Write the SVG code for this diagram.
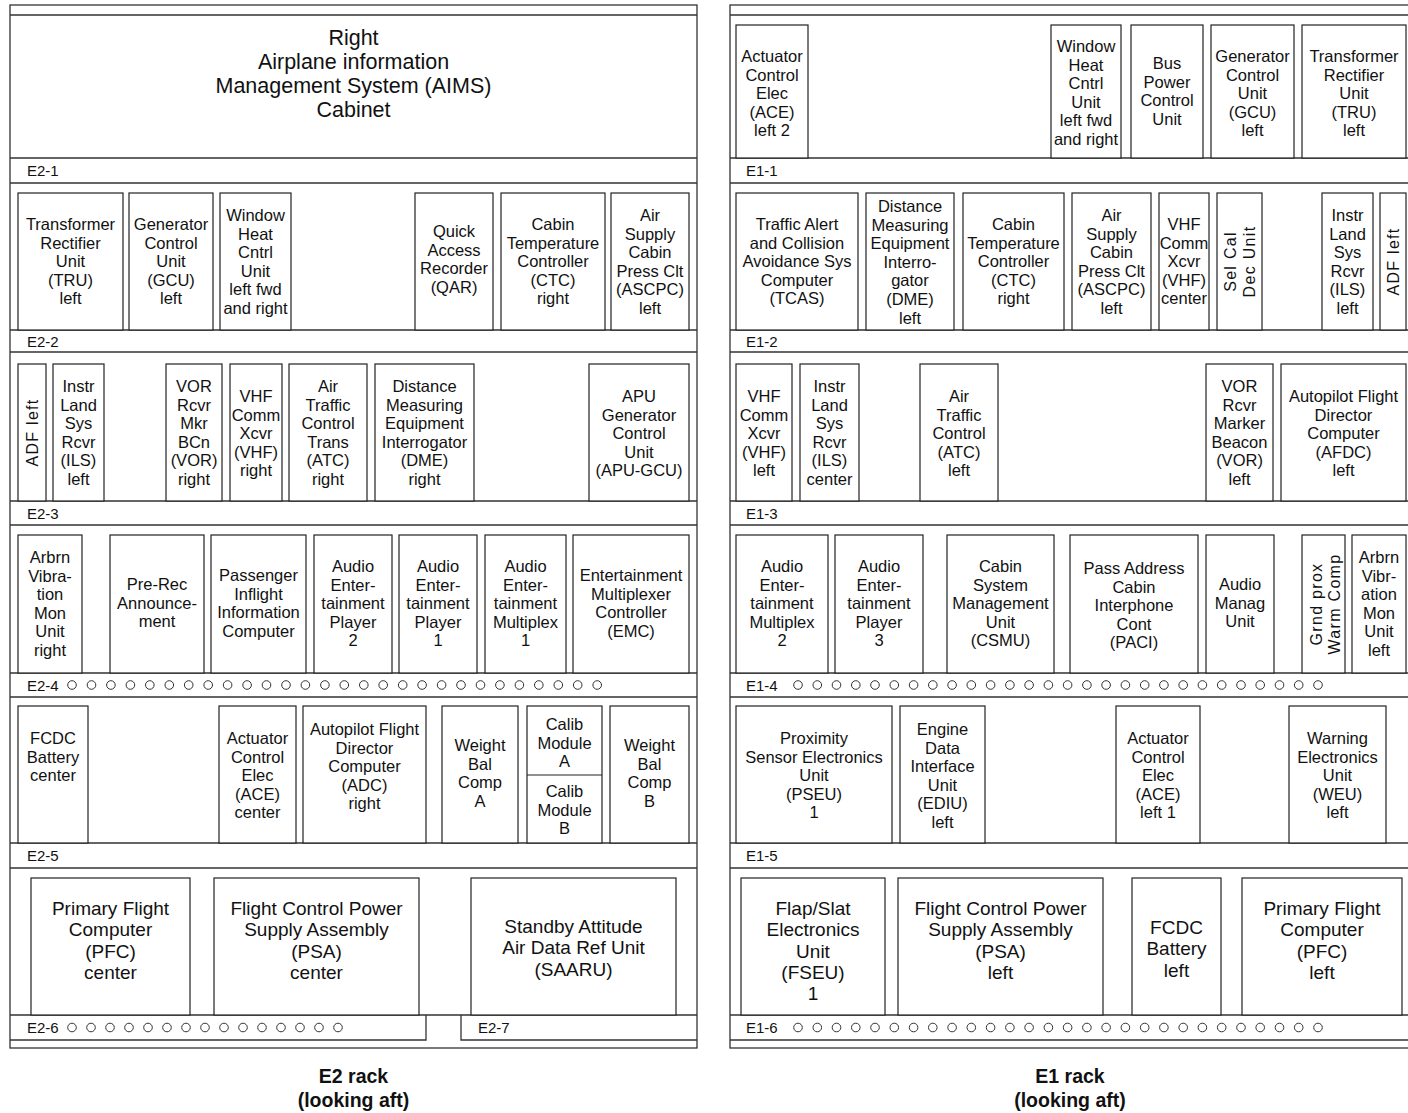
<svg xmlns="http://www.w3.org/2000/svg" width="1408" height="1113" viewBox="0 0 1408 1113">
<style>
.rk{fill:none;stroke:#333;stroke-width:1.3}
.bx{fill:#fff;stroke:#222;stroke-width:1.2}
.t{font-family:"Liberation Sans",Arial,Helvetica,sans-serif;font-size:16.5px;text-anchor:middle;fill:#111}
.tb{font-family:"Liberation Sans",Arial,Helvetica,sans-serif;font-size:19px;text-anchor:middle;fill:#111}
.ta{font-family:"Liberation Sans",Arial,Helvetica,sans-serif;font-size:21.5px;text-anchor:middle;fill:#111}
.tr{font-family:"Liberation Sans",Arial,Helvetica,sans-serif;font-size:16px;text-anchor:middle;fill:#111;letter-spacing:1.3px}
.lb{font-family:"Liberation Sans",Arial,Helvetica,sans-serif;font-size:15px;fill:#111}
.ti{font-family:"Liberation Sans",Arial,Helvetica,sans-serif;font-size:19.5px;font-weight:bold;text-anchor:middle;fill:#111}
.h{fill:none;stroke:#333;stroke-width:1}
</style>
<defs>
<circle id="hole" class="h" r="4.3"/>
</defs>
<rect width="1408" height="1113" fill="#fff"/>

<!-- E2 rack frame -->
<g id="e2-rack">
<rect class="rk" x="10" y="5" width="687" height="1043"/>
<path class="rk" d="M10,15H697M10,158H697M10,183H697M10,330H697M10,352H697M10,501H697M10,525H697M10,673H697M10,697H697M10,843H697M10,868H697M10,1015H697M10,1040H426V1015M461,1015V1040H697"/>
<text class="lb" x="27" y="176">E2-1</text>
<text class="lb" x="27" y="347">E2-2</text>
<text class="lb" x="27" y="519">E2-3</text>
<text class="lb" x="27" y="691">E2-4</text>
<text class="lb" x="27" y="861">E2-5</text>
<text class="lb" x="27" y="1033">E2-6</text>
<text class="lb" x="478" y="1033">E2-7</text>
<g id="e2-4-holes">
<use href="#hole" x="72" y="685"/><use href="#hole" x="91.5" y="685"/><use href="#hole" x="110.9" y="685"/><use href="#hole" x="130.4" y="685"/><use href="#hole" x="149.8" y="685"/><use href="#hole" x="169.3" y="685"/><use href="#hole" x="188.7" y="685"/><use href="#hole" x="208.2" y="685"/><use href="#hole" x="227.6" y="685"/><use href="#hole" x="247.1" y="685"/><use href="#hole" x="266.5" y="685"/><use href="#hole" x="286" y="685"/><use href="#hole" x="305.4" y="685"/><use href="#hole" x="324.9" y="685"/><use href="#hole" x="344.3" y="685"/><use href="#hole" x="363.8" y="685"/><use href="#hole" x="383.2" y="685"/><use href="#hole" x="402.7" y="685"/><use href="#hole" x="422.1" y="685"/><use href="#hole" x="441.6" y="685"/><use href="#hole" x="461" y="685"/><use href="#hole" x="480.5" y="685"/><use href="#hole" x="499.9" y="685"/><use href="#hole" x="519.4" y="685"/><use href="#hole" x="538.8" y="685"/><use href="#hole" x="558.3" y="685"/><use href="#hole" x="577.7" y="685"/><use href="#hole" x="597.2" y="685"/>
</g>
<g id="e2-6-holes">
<use href="#hole" x="72" y="1027.5"/><use href="#hole" x="91" y="1027.5"/><use href="#hole" x="110" y="1027.5"/><use href="#hole" x="129" y="1027.5"/><use href="#hole" x="148" y="1027.5"/><use href="#hole" x="167" y="1027.5"/><use href="#hole" x="186" y="1027.5"/><use href="#hole" x="205" y="1027.5"/><use href="#hole" x="224" y="1027.5"/><use href="#hole" x="243" y="1027.5"/><use href="#hole" x="262" y="1027.5"/><use href="#hole" x="281" y="1027.5"/><use href="#hole" x="300" y="1027.5"/><use href="#hole" x="319" y="1027.5"/><use href="#hole" x="338" y="1027.5"/>
</g>
</g>

<!-- E1 rack frame -->
<g id="e1-rack">
<rect class="rk" x="730" y="5" width="690" height="1043"/>
<path class="rk" d="M730,15H1408M730,158H1408M730,183H1408M730,330H1408M730,352H1408M730,501H1408M730,525H1408M730,673H1408M730,697H1408M730,843H1408M730,868H1408M730,1015H1408M730,1040H1408"/>
<text class="lb" x="746" y="176">E1-1</text>
<text class="lb" x="746" y="347">E1-2</text>
<text class="lb" x="746" y="519">E1-3</text>
<text class="lb" x="746" y="691">E1-4</text>
<text class="lb" x="746" y="861">E1-5</text>
<text class="lb" x="746" y="1033">E1-6</text>
<g id="e1-4-holes">
<use href="#hole" x="798" y="685"/><use href="#hole" x="817.3" y="685"/><use href="#hole" x="836.5" y="685"/><use href="#hole" x="855.8" y="685"/><use href="#hole" x="875" y="685"/><use href="#hole" x="894.3" y="685"/><use href="#hole" x="913.6" y="685"/><use href="#hole" x="932.8" y="685"/><use href="#hole" x="952.1" y="685"/><use href="#hole" x="971.3" y="685"/><use href="#hole" x="990.6" y="685"/><use href="#hole" x="1009.9" y="685"/><use href="#hole" x="1029.1" y="685"/><use href="#hole" x="1048.4" y="685"/><use href="#hole" x="1067.6" y="685"/><use href="#hole" x="1086.9" y="685"/><use href="#hole" x="1106.1" y="685"/><use href="#hole" x="1125.4" y="685"/><use href="#hole" x="1144.7" y="685"/><use href="#hole" x="1163.9" y="685"/><use href="#hole" x="1183.2" y="685"/><use href="#hole" x="1202.4" y="685"/><use href="#hole" x="1221.7" y="685"/><use href="#hole" x="1241" y="685"/><use href="#hole" x="1260.2" y="685"/><use href="#hole" x="1279.5" y="685"/><use href="#hole" x="1298.7" y="685"/><use href="#hole" x="1318" y="685"/>
</g>
<g id="e1-6-holes">
<use href="#hole" x="798" y="1027.5"/><use href="#hole" x="817.3" y="1027.5"/><use href="#hole" x="836.5" y="1027.5"/><use href="#hole" x="855.8" y="1027.5"/><use href="#hole" x="875" y="1027.5"/><use href="#hole" x="894.3" y="1027.5"/><use href="#hole" x="913.6" y="1027.5"/><use href="#hole" x="932.8" y="1027.5"/><use href="#hole" x="952.1" y="1027.5"/><use href="#hole" x="971.3" y="1027.5"/><use href="#hole" x="990.6" y="1027.5"/><use href="#hole" x="1009.9" y="1027.5"/><use href="#hole" x="1029.1" y="1027.5"/><use href="#hole" x="1048.4" y="1027.5"/><use href="#hole" x="1067.6" y="1027.5"/><use href="#hole" x="1086.9" y="1027.5"/><use href="#hole" x="1106.1" y="1027.5"/><use href="#hole" x="1125.4" y="1027.5"/><use href="#hole" x="1144.7" y="1027.5"/><use href="#hole" x="1163.9" y="1027.5"/><use href="#hole" x="1183.2" y="1027.5"/><use href="#hole" x="1202.4" y="1027.5"/><use href="#hole" x="1221.7" y="1027.5"/><use href="#hole" x="1241" y="1027.5"/><use href="#hole" x="1260.2" y="1027.5"/><use href="#hole" x="1279.5" y="1027.5"/><use href="#hole" x="1298.7" y="1027.5"/><use href="#hole" x="1318" y="1027.5"/>
</g>
</g>

<!-- E2 rack units -->
<g id="aims">
<text class="ta" x="353.5" y="45"><tspan x="353.5">Right</tspan><tspan x="353.5" dy="24">Airplane information</tspan><tspan x="353.5" dy="24">Management System (AIMS)</tspan><tspan x="353.5" dy="24">Cabinet</tspan></text>
</g>

<g id="e2-tru-left"><rect class="bx" x="18" y="193" width="105" height="137"/>
<text class="t" x="70.5" y="230"><tspan x="70.5">Transformer</tspan><tspan x="70.5" dy="18.6">Rectifier</tspan><tspan x="70.5" dy="18.6">Unit</tspan><tspan x="70.5" dy="18.6">(TRU)</tspan><tspan x="70.5" dy="18.6">left</tspan></text></g>
<g id="e2-gcu-left"><rect class="bx" x="129" y="193" width="84" height="137"/>
<text class="t" x="171" y="230"><tspan x="171">Generator</tspan><tspan x="171" dy="18.6">Control</tspan><tspan x="171" dy="18.6">Unit</tspan><tspan x="171" dy="18.6">(GCU)</tspan><tspan x="171" dy="18.6">left</tspan></text></g>
<g id="e2-whcu"><rect class="bx" x="220" y="193" width="71" height="137"/>
<text class="t" x="255.5" y="221"><tspan x="255.5">Window</tspan><tspan x="255.5" dy="18.6">Heat</tspan><tspan x="255.5" dy="18.6">Cntrl</tspan><tspan x="255.5" dy="18.6">Unit</tspan><tspan x="255.5" dy="18.6">left fwd</tspan><tspan x="255.5" dy="18.6">and right</tspan></text></g>
<g id="e2-qar"><rect class="bx" x="415" y="193" width="78" height="137"/>
<text class="t" x="454" y="237"><tspan x="454">Quick</tspan><tspan x="454" dy="18.6">Access</tspan><tspan x="454" dy="18.6">Recorder</tspan><tspan x="454" dy="18.6">(QAR)</tspan></text></g>
<g id="e2-ctc-right"><rect class="bx" x="501" y="193" width="104" height="137"/>
<text class="t" x="553" y="230"><tspan x="553">Cabin</tspan><tspan x="553" dy="18.6">Temperature</tspan><tspan x="553" dy="18.6">Controller</tspan><tspan x="553" dy="18.6">(CTC)</tspan><tspan x="553" dy="18.6">right</tspan></text></g>
<g id="e2-ascpc-left"><rect class="bx" x="611" y="193" width="78" height="137"/>
<text class="t" x="650" y="221"><tspan x="650">Air</tspan><tspan x="650" dy="18.6">Supply</tspan><tspan x="650" dy="18.6">Cabin</tspan><tspan x="650" dy="18.6">Press Clt</tspan><tspan x="650" dy="18.6">(ASCPC)</tspan><tspan x="650" dy="18.6">left</tspan></text></g>

<g id="e2-adf-left"><rect class="bx" x="18" y="364" width="28" height="137"/>
<text class="tr" transform="translate(32,432.5) rotate(-90)" x="0" y="6">ADF left</text></g>
<g id="e2-ils-left"><rect class="bx" x="53" y="364" width="51" height="137"/>
<text class="t" x="78.5" y="392"><tspan x="78.5">Instr</tspan><tspan x="78.5" dy="18.6">Land</tspan><tspan x="78.5" dy="18.6">Sys</tspan><tspan x="78.5" dy="18.6">Rcvr</tspan><tspan x="78.5" dy="18.6">(ILS)</tspan><tspan x="78.5" dy="18.6">left</tspan></text></g>
<g id="e2-vor-right"><rect class="bx" x="166" y="364" width="56" height="137"/>
<text class="t" x="194" y="392"><tspan x="194">VOR</tspan><tspan x="194" dy="18.6">Rcvr</tspan><tspan x="194" dy="18.6">Mkr</tspan><tspan x="194" dy="18.6">BCn</tspan><tspan x="194" dy="18.6">(VOR)</tspan><tspan x="194" dy="18.6">right</tspan></text></g>
<g id="e2-vhf-right"><rect class="bx" x="230" y="364" width="52" height="137"/>
<text class="t" x="256" y="402"><tspan x="256">VHF</tspan><tspan x="256" dy="18.6">Comm</tspan><tspan x="256" dy="18.6">Xcvr</tspan><tspan x="256" dy="18.6">(VHF)</tspan><tspan x="256" dy="18.6">right</tspan></text></g>
<g id="e2-atc-right"><rect class="bx" x="289" y="364" width="78" height="137"/>
<text class="t" x="328" y="392"><tspan x="328">Air</tspan><tspan x="328" dy="18.6">Traffic</tspan><tspan x="328" dy="18.6">Control</tspan><tspan x="328" dy="18.6">Trans</tspan><tspan x="328" dy="18.6">(ATC)</tspan><tspan x="328" dy="18.6">right</tspan></text></g>
<g id="e2-dme-right"><rect class="bx" x="375" y="364" width="99" height="137"/>
<text class="t" x="424.5" y="392"><tspan x="424.5">Distance</tspan><tspan x="424.5" dy="18.6">Measuring</tspan><tspan x="424.5" dy="18.6">Equipment</tspan><tspan x="424.5" dy="18.6">Interrogator</tspan><tspan x="424.5" dy="18.6">(DME)</tspan><tspan x="424.5" dy="18.6">right</tspan></text></g>
<g id="e2-apu-gcu"><rect class="bx" x="589" y="364" width="100" height="137"/>
<text class="t" x="639" y="402"><tspan x="639">APU</tspan><tspan x="639" dy="18.6">Generator</tspan><tspan x="639" dy="18.6">Control</tspan><tspan x="639" dy="18.6">Unit</tspan><tspan x="639" dy="18.6">(APU-GCU)</tspan></text></g>

<g id="e2-avm-right"><rect class="bx" x="18" y="535" width="64" height="138"/>
<text class="t" x="50" y="563"><tspan x="50">Arbrn</tspan><tspan x="50" dy="18.6">Vibra-</tspan><tspan x="50" dy="18.6">tion</tspan><tspan x="50" dy="18.6">Mon</tspan><tspan x="50" dy="18.6">Unit</tspan><tspan x="50" dy="18.6">right</tspan></text></g>
<g id="e2-prerec"><rect class="bx" x="110" y="535" width="94" height="138"/>
<text class="t" x="157" y="590"><tspan x="157">Pre-Rec</tspan><tspan x="157" dy="18.6">Announce-</tspan><tspan x="157" dy="18.6">ment</tspan></text></g>
<g id="e2-piic"><rect class="bx" x="211" y="535" width="95" height="138"/>
<text class="t" x="258.5" y="581"><tspan x="258.5">Passenger</tspan><tspan x="258.5" dy="18.6">Inflight</tspan><tspan x="258.5" dy="18.6">Information</tspan><tspan x="258.5" dy="18.6">Computer</tspan></text></g>
<g id="e2-aep2"><rect class="bx" x="314" y="535" width="78" height="138"/>
<text class="t" x="353" y="572"><tspan x="353">Audio</tspan><tspan x="353" dy="18.6">Enter-</tspan><tspan x="353" dy="18.6">tainment</tspan><tspan x="353" dy="18.6">Player</tspan><tspan x="353" dy="18.6">2</tspan></text></g>
<g id="e2-aep1"><rect class="bx" x="399" y="535" width="78" height="138"/>
<text class="t" x="438" y="572"><tspan x="438">Audio</tspan><tspan x="438" dy="18.6">Enter-</tspan><tspan x="438" dy="18.6">tainment</tspan><tspan x="438" dy="18.6">Player</tspan><tspan x="438" dy="18.6">1</tspan></text></g>
<g id="e2-aem1"><rect class="bx" x="485" y="535" width="81" height="138"/>
<text class="t" x="525.5" y="572"><tspan x="525.5">Audio</tspan><tspan x="525.5" dy="18.6">Enter-</tspan><tspan x="525.5" dy="18.6">tainment</tspan><tspan x="525.5" dy="18.6">Multiplex</tspan><tspan x="525.5" dy="18.6">1</tspan></text></g>
<g id="e2-emc"><rect class="bx" x="573" y="535" width="116" height="138"/>
<text class="t" x="631" y="581"><tspan x="631">Entertainment</tspan><tspan x="631" dy="18.6">Multiplexer</tspan><tspan x="631" dy="18.6">Controller</tspan><tspan x="631" dy="18.6">(EMC)</tspan></text></g>

<g id="e2-fcdc-center"><rect class="bx" x="18" y="706" width="70" height="137"/>
<text class="t" x="53" y="744"><tspan x="53">FCDC</tspan><tspan x="53" dy="18.6">Battery</tspan><tspan x="53" dy="18.6">center</tspan></text></g>
<g id="e2-ace-center"><rect class="bx" x="219" y="706" width="77" height="137"/>
<text class="t" x="257.5" y="744"><tspan x="257.5">Actuator</tspan><tspan x="257.5" dy="18.6">Control</tspan><tspan x="257.5" dy="18.6">Elec</tspan><tspan x="257.5" dy="18.6">(ACE)</tspan><tspan x="257.5" dy="18.6">center</tspan></text></g>
<g id="e2-adc-right"><rect class="bx" x="303" y="706" width="123" height="137"/>
<text class="t" x="364.5" y="735"><tspan x="364.5">Autopilot Flight</tspan><tspan x="364.5" dy="18.6">Director</tspan><tspan x="364.5" dy="18.6">Computer</tspan><tspan x="364.5" dy="18.6">(ADC)</tspan><tspan x="364.5" dy="18.6">right</tspan></text></g>
<g id="e2-wbc-a"><rect class="bx" x="442" y="706" width="76" height="137"/>
<text class="t" x="480" y="751"><tspan x="480">Weight</tspan><tspan x="480" dy="18.6">Bal</tspan><tspan x="480" dy="18.6">Comp</tspan><tspan x="480" dy="18.6">A</tspan></text></g>
<g id="e2-calib"><rect class="bx" x="527" y="706" width="75" height="137"/>
<line class="bx" x1="527" y1="775" x2="602" y2="775"/>
<text class="t" x="564.5" y="730"><tspan x="564.5">Calib</tspan><tspan x="564.5" dy="18.6">Module</tspan><tspan x="564.5" dy="18.6">A</tspan></text>
<text class="t" x="564.5" y="797"><tspan x="564.5">Calib</tspan><tspan x="564.5" dy="18.6">Module</tspan><tspan x="564.5" dy="18.6">B</tspan></text></g>
<g id="e2-wbc-b"><rect class="bx" x="610" y="706" width="79" height="137"/>
<text class="t" x="649.5" y="751"><tspan x="649.5">Weight</tspan><tspan x="649.5" dy="18.6">Bal</tspan><tspan x="649.5" dy="18.6">Comp</tspan><tspan x="649.5" dy="18.6">B</tspan></text></g>

<g id="e2-pfc-center"><rect class="bx" x="31" y="878" width="159" height="137"/>
<text class="tb" x="110.5" y="915"><tspan x="110.5">Primary Flight</tspan><tspan x="110.5" dy="21.3">Computer</tspan><tspan x="110.5" dy="21.3">(PFC)</tspan><tspan x="110.5" dy="21.3">center</tspan></text></g>
<g id="e2-psa-center"><rect class="bx" x="214" y="878" width="205" height="137"/>
<text class="tb" x="316.5" y="915"><tspan x="316.5">Flight Control Power</tspan><tspan x="316.5" dy="21.3">Supply Assembly</tspan><tspan x="316.5" dy="21.3">(PSA)</tspan><tspan x="316.5" dy="21.3">center</tspan></text></g>
<g id="e2-saaru"><rect class="bx" x="471" y="878" width="205" height="137"/>
<text class="tb" x="573.5" y="933"><tspan x="573.5">Standby Attitude</tspan><tspan x="573.5" dy="21.3">Air Data Ref Unit</tspan><tspan x="573.5" dy="21.3">(SAARU)</tspan></text></g>

<!-- E1 rack units -->
<g id="e1-ace-left2"><rect class="bx" x="736" y="25" width="72" height="133"/>
<text class="t" x="772" y="62"><tspan x="772">Actuator</tspan><tspan x="772" dy="18.6">Control</tspan><tspan x="772" dy="18.6">Elec</tspan><tspan x="772" dy="18.6">(ACE)</tspan><tspan x="772" dy="18.6">left 2</tspan></text></g>
<g id="e1-whcu"><rect class="bx" x="1051" y="25" width="70" height="133"/>
<text class="t" x="1086" y="52"><tspan x="1086">Window</tspan><tspan x="1086" dy="18.6">Heat</tspan><tspan x="1086" dy="18.6">Cntrl</tspan><tspan x="1086" dy="18.6">Unit</tspan><tspan x="1086" dy="18.6">left fwd</tspan><tspan x="1086" dy="18.6">and right</tspan></text></g>
<g id="e1-bpcu"><rect class="bx" x="1131" y="25" width="72" height="133"/>
<text class="t" x="1167" y="69"><tspan x="1167">Bus</tspan><tspan x="1167" dy="18.6">Power</tspan><tspan x="1167" dy="18.6">Control</tspan><tspan x="1167" dy="18.6">Unit</tspan></text></g>
<g id="e1-gcu-left"><rect class="bx" x="1211" y="25" width="83" height="133"/>
<text class="t" x="1252.5" y="62"><tspan x="1252.5">Generator</tspan><tspan x="1252.5" dy="18.6">Control</tspan><tspan x="1252.5" dy="18.6">Unit</tspan><tspan x="1252.5" dy="18.6">(GCU)</tspan><tspan x="1252.5" dy="18.6">left</tspan></text></g>
<g id="e1-tru-left"><rect class="bx" x="1302" y="25" width="104" height="133"/>
<text class="t" x="1354" y="62"><tspan x="1354">Transformer</tspan><tspan x="1354" dy="18.6">Rectifier</tspan><tspan x="1354" dy="18.6">Unit</tspan><tspan x="1354" dy="18.6">(TRU)</tspan><tspan x="1354" dy="18.6">left</tspan></text></g>

<g id="e1-tcas"><rect class="bx" x="736" y="193" width="122" height="137"/>
<text class="t" x="797" y="230"><tspan x="797">Traffic Alert</tspan><tspan x="797" dy="18.6">and Collision</tspan><tspan x="797" dy="18.6">Avoidance Sys</tspan><tspan x="797" dy="18.6">Computer</tspan><tspan x="797" dy="18.6">(TCAS)</tspan></text></g>
<g id="e1-dme-left"><rect class="bx" x="866" y="193" width="88" height="137"/>
<text class="t" x="910" y="212"><tspan x="910">Distance</tspan><tspan x="910" dy="18.6">Measuring</tspan><tspan x="910" dy="18.6">Equipment</tspan><tspan x="910" dy="18.6">Interro-</tspan><tspan x="910" dy="18.6">gator</tspan><tspan x="910" dy="18.6">(DME)</tspan><tspan x="910" dy="18.6">left</tspan></text></g>
<g id="e1-ctc-right"><rect class="bx" x="963" y="193" width="101" height="137"/>
<text class="t" x="1013.5" y="230"><tspan x="1013.5">Cabin</tspan><tspan x="1013.5" dy="18.6">Temperature</tspan><tspan x="1013.5" dy="18.6">Controller</tspan><tspan x="1013.5" dy="18.6">(CTC)</tspan><tspan x="1013.5" dy="18.6">right</tspan></text></g>
<g id="e1-ascpc-left"><rect class="bx" x="1072" y="193" width="79" height="137"/>
<text class="t" x="1111.5" y="221"><tspan x="1111.5">Air</tspan><tspan x="1111.5" dy="18.6">Supply</tspan><tspan x="1111.5" dy="18.6">Cabin</tspan><tspan x="1111.5" dy="18.6">Press Clt</tspan><tspan x="1111.5" dy="18.6">(ASCPC)</tspan><tspan x="1111.5" dy="18.6">left</tspan></text></g>
<g id="e1-vhf-center"><rect class="bx" x="1159" y="193" width="50" height="137"/>
<text class="t" x="1184" y="230"><tspan x="1184">VHF</tspan><tspan x="1184" dy="18.6">Comm</tspan><tspan x="1184" dy="18.6">Xcvr</tspan><tspan x="1184" dy="18.6">(VHF)</tspan><tspan x="1184" dy="18.6">center</tspan></text></g>
<g id="e1-selcal"><rect class="bx" x="1217" y="193" width="45" height="137"/>
<text class="tr" transform="translate(1239.5,261.5) rotate(-90)" x="0" y="-3.5"><tspan x="0">Sel Cal</tspan><tspan x="0" dy="19">Dec Unit</tspan></text></g>
<g id="e1-ils-left"><rect class="bx" x="1322" y="193" width="51" height="137"/>
<text class="t" x="1347.5" y="221"><tspan x="1347.5">Instr</tspan><tspan x="1347.5" dy="18.6">Land</tspan><tspan x="1347.5" dy="18.6">Sys</tspan><tspan x="1347.5" dy="18.6">Rcvr</tspan><tspan x="1347.5" dy="18.6">(ILS)</tspan><tspan x="1347.5" dy="18.6">left</tspan></text></g>
<g id="e1-adf-left"><rect class="bx" x="1380" y="193" width="26" height="137"/>
<text class="tr" transform="translate(1393,261.5) rotate(-90)" x="0" y="6">ADF left</text></g>

<g id="e1-vhf-left"><rect class="bx" x="736" y="364" width="56" height="137"/>
<text class="t" x="764" y="402"><tspan x="764">VHF</tspan><tspan x="764" dy="18.6">Comm</tspan><tspan x="764" dy="18.6">Xcvr</tspan><tspan x="764" dy="18.6">(VHF)</tspan><tspan x="764" dy="18.6">left</tspan></text></g>
<g id="e1-ils-center"><rect class="bx" x="800" y="364" width="59" height="137"/>
<text class="t" x="829.5" y="392"><tspan x="829.5">Instr</tspan><tspan x="829.5" dy="18.6">Land</tspan><tspan x="829.5" dy="18.6">Sys</tspan><tspan x="829.5" dy="18.6">Rcvr</tspan><tspan x="829.5" dy="18.6">(ILS)</tspan><tspan x="829.5" dy="18.6">center</tspan></text></g>
<g id="e1-atc-left"><rect class="bx" x="920" y="364" width="78" height="137"/>
<text class="t" x="959" y="402"><tspan x="959">Air</tspan><tspan x="959" dy="18.6">Traffic</tspan><tspan x="959" dy="18.6">Control</tspan><tspan x="959" dy="18.6">(ATC)</tspan><tspan x="959" dy="18.6">left</tspan></text></g>
<g id="e1-vor-left"><rect class="bx" x="1206" y="364" width="67" height="137"/>
<text class="t" x="1239.5" y="392"><tspan x="1239.5">VOR</tspan><tspan x="1239.5" dy="18.6">Rcvr</tspan><tspan x="1239.5" dy="18.6">Marker</tspan><tspan x="1239.5" dy="18.6">Beacon</tspan><tspan x="1239.5" dy="18.6">(VOR)</tspan><tspan x="1239.5" dy="18.6">left</tspan></text></g>
<g id="e1-afdc-left"><rect class="bx" x="1281" y="364" width="125" height="137"/>
<text class="t" x="1343.5" y="402"><tspan x="1343.5">Autopilot Flight</tspan><tspan x="1343.5" dy="18.6">Director</tspan><tspan x="1343.5" dy="18.6">Computer</tspan><tspan x="1343.5" dy="18.6">(AFDC)</tspan><tspan x="1343.5" dy="18.6">left</tspan></text></g>

<g id="e1-aem2"><rect class="bx" x="736" y="535" width="92" height="138"/>
<text class="t" x="782" y="572"><tspan x="782">Audio</tspan><tspan x="782" dy="18.6">Enter-</tspan><tspan x="782" dy="18.6">tainment</tspan><tspan x="782" dy="18.6">Multiplex</tspan><tspan x="782" dy="18.6">2</tspan></text></g>
<g id="e1-aep3"><rect class="bx" x="835" y="535" width="88" height="138"/>
<text class="t" x="879" y="572"><tspan x="879">Audio</tspan><tspan x="879" dy="18.6">Enter-</tspan><tspan x="879" dy="18.6">tainment</tspan><tspan x="879" dy="18.6">Player</tspan><tspan x="879" dy="18.6">3</tspan></text></g>
<g id="e1-csmu"><rect class="bx" x="947" y="535" width="107" height="138"/>
<text class="t" x="1000.5" y="572"><tspan x="1000.5">Cabin</tspan><tspan x="1000.5" dy="18.6">System</tspan><tspan x="1000.5" dy="18.6">Management</tspan><tspan x="1000.5" dy="18.6">Unit</tspan><tspan x="1000.5" dy="18.6">(CSMU)</tspan></text></g>
<g id="e1-paci"><rect class="bx" x="1070" y="535" width="128" height="138"/>
<text class="t" x="1134" y="574"><tspan x="1134">Pass Address</tspan><tspan x="1134" dy="18.6">Cabin</tspan><tspan x="1134" dy="18.6">Interphone</tspan><tspan x="1134" dy="18.6">Cont</tspan><tspan x="1134" dy="18.6">(PACI)</tspan></text></g>
<g id="e1-amu"><rect class="bx" x="1206" y="535" width="68" height="138"/>
<text class="t" x="1240" y="590"><tspan x="1240">Audio</tspan><tspan x="1240" dy="18.6">Manag</tspan><tspan x="1240" dy="18.6">Unit</tspan></text></g>
<g id="e1-gpwc"><rect class="bx" x="1302" y="535" width="43" height="138"/>
<text class="tr" transform="translate(1325,604) rotate(-90)" x="0" y="-3"><tspan x="0">Grnd prox</tspan><tspan x="0" dy="18">Warm Comp</tspan></text></g>
<g id="e1-avm-left"><rect class="bx" x="1352" y="535" width="54" height="138"/>
<text class="t" x="1379" y="563"><tspan x="1379">Arbrn</tspan><tspan x="1379" dy="18.6">Vibr-</tspan><tspan x="1379" dy="18.6">ation</tspan><tspan x="1379" dy="18.6">Mon</tspan><tspan x="1379" dy="18.6">Unit</tspan><tspan x="1379" dy="18.6">left</tspan></text></g>

<g id="e1-pseu"><rect class="bx" x="736" y="706" width="156" height="137"/>
<text class="t" x="814" y="744"><tspan x="814">Proximity</tspan><tspan x="814" dy="18.6">Sensor Electronics</tspan><tspan x="814" dy="18.6">Unit</tspan><tspan x="814" dy="18.6">(PSEU)</tspan><tspan x="814" dy="18.6">1</tspan></text></g>
<g id="e1-ediu"><rect class="bx" x="900" y="706" width="85" height="137"/>
<text class="t" x="942.5" y="735"><tspan x="942.5">Engine</tspan><tspan x="942.5" dy="18.6">Data</tspan><tspan x="942.5" dy="18.6">Interface</tspan><tspan x="942.5" dy="18.6">Unit</tspan><tspan x="942.5" dy="18.6">(EDIU)</tspan><tspan x="942.5" dy="18.6">left</tspan></text></g>
<g id="e1-ace-left1"><rect class="bx" x="1116" y="706" width="84" height="137"/>
<text class="t" x="1158" y="744"><tspan x="1158">Actuator</tspan><tspan x="1158" dy="18.6">Control</tspan><tspan x="1158" dy="18.6">Elec</tspan><tspan x="1158" dy="18.6">(ACE)</tspan><tspan x="1158" dy="18.6">left 1</tspan></text></g>
<g id="e1-weu"><rect class="bx" x="1289" y="706" width="97" height="137"/>
<text class="t" x="1337.5" y="744"><tspan x="1337.5">Warning</tspan><tspan x="1337.5" dy="18.6">Electronics</tspan><tspan x="1337.5" dy="18.6">Unit</tspan><tspan x="1337.5" dy="18.6">(WEU)</tspan><tspan x="1337.5" dy="18.6">left</tspan></text></g>

<g id="e1-fseu"><rect class="bx" x="741" y="878" width="144" height="137"/>
<text class="tb" x="813" y="915"><tspan x="813">Flap/Slat</tspan><tspan x="813" dy="21.3">Electronics</tspan><tspan x="813" dy="21.3">Unit</tspan><tspan x="813" dy="21.3">(FSEU)</tspan><tspan x="813" dy="21.3">1</tspan></text></g>
<g id="e1-psa-left"><rect class="bx" x="898" y="878" width="205" height="137"/>
<text class="tb" x="1000.5" y="915"><tspan x="1000.5">Flight Control Power</tspan><tspan x="1000.5" dy="21.3">Supply Assembly</tspan><tspan x="1000.5" dy="21.3">(PSA)</tspan><tspan x="1000.5" dy="21.3">left</tspan></text></g>
<g id="e1-fcdc-left"><rect class="bx" x="1132" y="878" width="89" height="137"/>
<text class="tb" x="1176.5" y="934"><tspan x="1176.5">FCDC</tspan><tspan x="1176.5" dy="21.3">Battery</tspan><tspan x="1176.5" dy="21.3">left</tspan></text></g>
<g id="e1-pfc-left"><rect class="bx" x="1242" y="878" width="160" height="137"/>
<text class="tb" x="1322" y="915"><tspan x="1322">Primary Flight</tspan><tspan x="1322" dy="21.3">Computer</tspan><tspan x="1322" dy="21.3">(PFC)</tspan><tspan x="1322" dy="21.3">left</tspan></text></g>

<g id="titles">
<text class="ti" x="353.5" y="1083"><tspan x="353.5">E2 rack</tspan><tspan x="353.5" dy="24">(looking aft)</tspan></text>
<text class="ti" x="1070" y="1083"><tspan x="1070">E1 rack</tspan><tspan x="1070" dy="24">(looking aft)</tspan></text>
</g>
</svg>
